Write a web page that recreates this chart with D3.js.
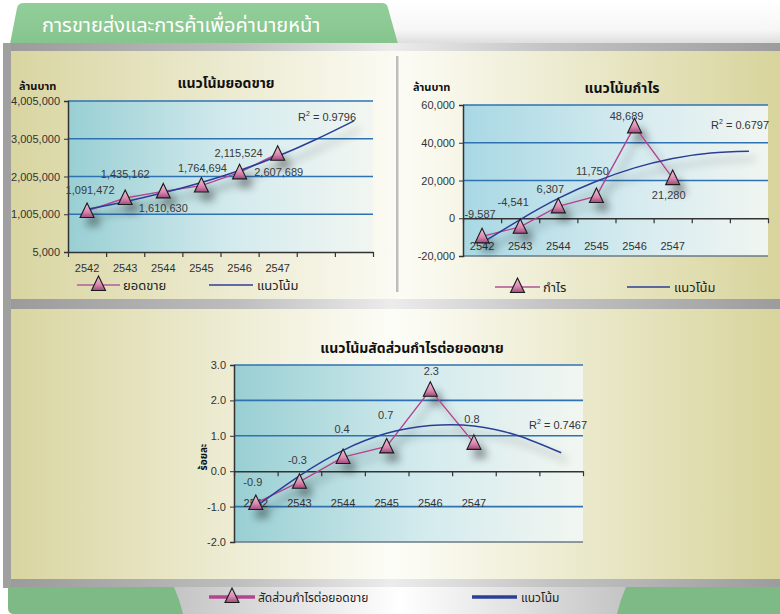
<!DOCTYPE html>
<html>
<head>
<meta charset="utf-8">
<script src="https://cdn.jsdelivr.net/npm/d3@7/dist/d3.min.js"></script>
<style>
  html, body { margin: 0; padding: 0; background: #fff; }
  svg { display: block; }
  text { font-family: "Liberation Sans", Arial, "Noto Sans", sans-serif; }
  .thai { font-family: Tahoma, "Noto Sans Thai", "Noto Sans", "DejaVu Sans", sans-serif; }
</style>
</head>
<body>
<script>
// ---------------- DATA ----------------
const categories = ["2542", "2543", "2544", "2545", "2546", "2547"];

const salesValues  = [1091472, 1435162, 1610630, 1764694, 2115524, 2607689];
const salesTrend   = [1140000, 1339000, 1572000, 1846000, 2166000, 2543000, 2986000, 3480000];
const salesTicks   = [5000, 1005000, 2005000, 3005000, 4005000];
const salesR2      = "0.9796";

const profitValues = [-9587, -4541, 6307, 11750, 48689, 21280];
const profitTrend  = [-13000, -700, 10500, 19600, 26700, 31700, 34600, 35500];
const profitTicks  = [-20000, 0, 20000, 40000, 60000];
const profitR2     = "0.6797";

const ratioValues  = [-0.9, -0.3, 0.4, 0.7, 2.3, 0.8];
const ratioTrend   = [-1.0, -0.13, 0.59, 1.07, 1.29, 1.28, 1.01, 0.52];
const ratioTicks   = [-2.0, -1.0, 0.0, 1.0, 2.0, 3.0];
const ratioR2      = "0.7467";

const pageTitle = "การขายส่งและการค้าเพื่อค่านายหน้า";
const titles = { sales: "แนวโน้มยอดขาย", profit: "แนวโน้มกำไร", ratio: "แนวโน้มสัดส่วนกำไรต่อยอดขาย" };
const unitLabel = "ล้านบาท";
const ratioUnit = "ร้อยละ";
const legendNames = { sales: "ยอดขาย", profit: "กำไร", ratio: "สัดส่วนกำไรต่อยอดขาย", trend: "แนวโน้ม" };

// --------------- DRAWING ----------------
const W = 780, H = 614;
const svg = d3.select("body").append("svg").attr("width", W).attr("height", H);
const defs = svg.append("defs");

function hGrad(id, stops) {
  const g = defs.append("linearGradient").attr("id", id).attr("x1", 0).attr("x2", 1).attr("y1", 0).attr("y2", 0);
  stops.forEach(s => g.append("stop").attr("offset", s[0]).attr("stop-color", s[1]));
}
function vGrad(id, stops) {
  const g = defs.append("linearGradient").attr("id", id).attr("x1", 0).attr("x2", 0).attr("y1", 0).attr("y2", 1);
  stops.forEach(s => g.append("stop").attr("offset", s[0]).attr("stop-color", s[1]));
}
hGrad("grayBar", [[0, "#9a9a9a"], [0.3, "#bdbdbd"], [0.5, "#ececec"], [0.7, "#c4c4c4"], [1, "#9c9c9c"]]);
hGrad("panelL", [[0, "#d9d5a1"], [1, "#fbfbf4"]]);
hGrad("panelR", [[0, "#fcfcf6"], [1, "#d8d49c"]]);
hGrad("panelB", [[0, "#d9d5a1"], [0.5, "#fdfdf8"], [1, "#d8d49c"]]);
hGrad("plotFill", [[0, "#98cfd3"], [0.55, "#d4ebee"], [1, "#f2f6f1"]]);
hGrad("plotFill2", [[0, "#a8d8e4"], [0.6, "#d8ecf0"], [1, "#f0f5f1"]]);
hGrad("legendBg", [[0, "#c4c4c4"], [0.5, "#ffffff"], [1, "#c4c4c4"]]);
vGrad("tabFill", [[0, "#92ce99"], [1, "#86c48d"]]);
vGrad("topWhite", [[0, "#ffffff"], [0.7, "#f6f6f6"], [1, "#dedede"]]);
vGrad("triFill", [[0, "#f4c6dc"], [0.6, "#d988b0"], [1, "#a04a7c"]]);

const sh = defs.append("filter").attr("id", "shadow").attr("x", "-20%").attr("y", "-20%").attr("width", "150%").attr("height", "160%");
sh.append("feGaussianBlur").attr("in", "SourceAlpha").attr("stdDeviation", 4).attr("result", "b");
sh.append("feOffset").attr("in", "b").attr("dx", 6).attr("dy", 8).attr("result", "o");
sh.append("feComponentTransfer").attr("in", "o").attr("result", "o2")
  .append("feFuncA").attr("type", "linear").attr("slope", 0.45);
const m = sh.append("feMerge");
m.append("feMergeNode").attr("in", "o2");
m.append("feMergeNode").attr("in", "SourceGraphic");

// ---- page decoration ----
svg.append("rect").attr("x", 392).attr("y", 0).attr("width", W - 392).attr("height", 43).attr("fill", "url(#topWhite)");
svg.append("path").attr("d", "M10,44 L17,8 Q18,3 24,3 L382,3 Q387,3 388,8 L398,44 Z").attr("fill", "url(#tabFill)");
svg.append("text").attr("class", "thai").attr("x", 42).attr("y", 32).attr("fill", "#fff")
  .attr("font-size", 20).text(pageTitle);

// bottom decoration
svg.append("path").attr("d", "M8,587 L180,587 L184,614 L14,614 Q8,614 8,608 Z").attr("fill", "#7dba86");
svg.append("path").attr("d", "M620,587 L780,587 L780,614 L616,614 Z").attr("fill", "#7dba86");
svg.append("path").attr("d", "M174,587 L626,587 Q620,600 617,614 L183,614 Q180,600 174,587 Z").attr("fill", "url(#legendBg)");

// gray frame
svg.append("rect").attr("x", 3).attr("y", 43).attr("width", W - 3).attr("height", 8).attr("fill", "url(#grayBar)");
svg.append("rect").attr("x", 3).attr("y", 299).attr("width", W - 3).attr("height", 10).attr("fill", "url(#grayBar)");
svg.append("rect").attr("x", 3).attr("y", 579).attr("width", W - 3).attr("height", 8).attr("fill", "url(#grayBar)");
svg.append("rect").attr("x", 3).attr("y", 43).attr("width", 8).attr("height", 545).attr("fill", "#a0a0a0");

// panels
svg.append("rect").attr("x", 11).attr("y", 51).attr("width", 386).attr("height", 248).attr("fill", "url(#panelL)");
svg.append("rect").attr("x", 397).attr("y", 51).attr("width", W - 397).attr("height", 248).attr("fill", "url(#panelR)");
svg.append("rect").attr("x", 11).attr("y", 309).attr("width", W - 11).attr("height", 270).attr("fill", "url(#panelB)");
svg.append("rect").attr("x", 396).attr("y", 56).attr("width", 2.5).attr("height", 236).attr("fill", "#bdbdbd");

const triPath = "M0,-8 L7,6.5 L-7,6.5 Z";

function drawChart(cfg) {
  const g = svg.append("g");
  const x = d3.scaleLinear().domain([0.5, 8.5]).range([cfg.left, cfg.right]);
  const y = d3.scaleLinear().domain(cfg.domain).range([cfg.bottom, cfg.top]);
  const fmt = cfg.fmt;

  g.append("rect").attr("x", cfg.left).attr("y", cfg.top).attr("width", cfg.right - cfg.left)
    .attr("height", cfg.bottom - cfg.top).attr("fill", cfg.fill);

  g.selectAll(".grid").data(cfg.ticks.filter(t => t !== cfg.baseline)).join("line")
    .attr("x1", cfg.left).attr("x2", cfg.right)
    .attr("y1", d => y(d)).attr("y2", d => y(d))
    .attr("stroke", d => d === cfg.domain[0] ? "#6a7a86" : "#2f72b2")
    .attr("stroke-width", d => d === cfg.domain[0] ? 1.5 : 1.6);

  const ya = d3.axisLeft(y).tickValues(cfg.ticks).tickFormat(fmt).tickSize(4).tickPadding(4);
  const yg = g.append("g").attr("transform", `translate(${cfg.left},0)`).call(ya);
  yg.select(".domain").attr("stroke", "#333").attr("stroke-width", 1.5);
  yg.selectAll(".tick line").attr("stroke", "#333");
  yg.selectAll("text").attr("font-size", 11).attr("fill", "#333")
    .attr("font-family", "'Liberation Sans', Arial, sans-serif");

  const xa = d3.axisBottom(x).tickValues(d3.range(0.5, 9, 1)).tickFormat("").tickSize(5).tickSizeOuter(0);
  const xg = g.append("g").attr("transform", `translate(0,${y(cfg.baseline)})`).call(xa);
  xg.select(".domain").attr("stroke", "#333").attr("stroke-width", 1.5);
  xg.selectAll(".tick line").attr("stroke", "#333").attr("stroke-width", 1.2);

  g.selectAll(".cat").data(categories).join("text")
    .attr("x", (d, i) => x(i + 1)).attr("y", cfg.catY)
    .attr("text-anchor", "middle").attr("font-size", 11).attr("fill", "#333").text(d => d);

  const sg = g.append("g").attr("filter", "url(#shadow)");
  sg.append("path").datum(cfg.values)
    .attr("d", d3.line().x((d, i) => x(i + 1)).y(d => y(d)))
    .attr("fill", "none").attr("stroke", "#b3448f").attr("stroke-width", 1.4);
  sg.append("path").datum(cfg.trend)
    .attr("d", d3.line().curve(d3.curveNatural).x((d, i) => x(i + 1)).y(d => y(d)))
    .attr("fill", "none").attr("stroke", "#2b3f96").attr("stroke-width", 1.5);
  sg.selectAll(".tri").data(cfg.values).join("path")
    .attr("d", triPath).attr("transform", (d, i) => `translate(${x(i + 1)},${y(d)})`)
    .attr("fill", "url(#triFill)").attr("stroke", "#1a1a1a").attr("stroke-width", 1.1);

  g.selectAll(".lbl").data(cfg.values).join("text")
    .attr("x", (d, i) => x(i + 1) + cfg.labelDx[i]).attr("y", (d, i) => y(d) + cfg.labelDy[i] + 4)
    .attr("text-anchor", "middle").attr("font-size", 11).attr("fill", "#3a3a3a").text(d => fmt(d));

  const r = g.append("text").attr("x", cfg.r2x).attr("y", cfg.r2y).attr("font-size", 11).attr("fill", "#333");
  r.append("tspan").text("R");
  r.append("tspan").attr("font-size", 7).attr("dy", -5).text("2");
  r.append("tspan").attr("dy", 5).text(" = " + cfg.r2);

  svg.append("text").attr("class", "thai").attr("x", cfg.titleX).attr("y", cfg.titleY)
    .attr("text-anchor", "middle").attr("font-size", 14).attr("font-weight", "bold").attr("fill", "#111")
    .text(cfg.title);
  return { x, y };
}

function legend(lx, ly, name, thick, nameFs) {
  const g = svg.append("g");
  g.append("line").attr("x1", lx.s1).attr("x2", lx.s2).attr("y1", ly).attr("y2", ly)
    .attr("stroke", thick ? "#b3448f" : "#c07aa8").attr("stroke-width", thick ? 3.5 : 2);
  g.append("path").attr("d", triPath).attr("transform", `translate(${(lx.s1 + lx.s2) / 2},${ly - 1})`)
    .attr("fill", "url(#triFill)").attr("stroke", "#1a1a1a").attr("stroke-width", 1.1);
  g.append("text").attr("class", "thai").attr("x", lx.s2 + 3).attr("y", ly + 5).attr("font-size", nameFs)
    .attr("fill", "#222").text(name);
  g.append("line").attr("x1", lx.t1).attr("x2", lx.t2).attr("y1", ly).attr("y2", ly)
    .attr("stroke", "#2b3f96").attr("stroke-width", thick ? 3.5 : 1.5);
  g.append("text").attr("class", "thai").attr("x", lx.t2 + 4).attr("y", ly + 5).attr("font-size", nameFs)
    .attr("fill", "#222").text(legendNames.trend);
}

const loc = d3.formatLocale({ decimal: ".", thousands: ",", grouping: [3], currency: ["", ""], minus: "-" });
const fmtInt = loc.format(",");
const fmt1 = loc.format(".1f");

// Sales
drawChart({
  left: 68, right: 373, top: 101, bottom: 252, domain: [5000, 4005000], baseline: 5000,
  ticks: salesTicks, values: salesValues, trend: salesTrend, fmt: fmtInt, fill: "url(#plotFill)",
  catY: 272, labelDx: [3, 0, 0, 1, -1, 1], labelDy: [-21, -24, 17, -18, -19, 18],
  r2: salesR2, r2x: 298, r2y: 121, title: titles.sales, titleX: 226, titleY: 88
});
svg.append("text").attr("class", "thai").attr("x", 19).attr("y", 90).attr("font-size", 11)
  .attr("font-weight", "bold").attr("fill", "#111").text(unitLabel);
legend({ s1: 77, s2: 120, t1: 209, t2: 253 }, 285, legendNames.sales, false, 13);

// Profit
drawChart({
  left: 463, right: 768, top: 105, bottom: 256, domain: [-20000, 60000], baseline: 0,
  ticks: profitTicks, values: profitValues, trend: profitTrend, fmt: fmtInt, fill: "url(#plotFill2)",
  catY: 250, labelDx: [-2, -7, -8, -4, -8, -4], labelDy: [-22, -25, -17, -25, -10, 17],
  r2: profitR2, r2x: 711, r2y: 129, title: titles.profit, titleX: 622, titleY: 93
});
svg.append("text").attr("class", "thai").attr("x", 413).attr("y", 91).attr("font-size", 11)
  .attr("font-weight", "bold").attr("fill", "#111").text(unitLabel);
legend({ s1: 495, s2: 540, t1: 627, t2: 670 }, 287, legendNames.profit, false, 13);

// Ratio
drawChart({
  left: 234, right: 583, top: 365, bottom: 542, domain: [-2, 3], baseline: 0,
  ticks: ratioTicks, values: ratioValues, trend: ratioTrend, fmt: fmt1, fill: "url(#plotFill)",
  catY: 507, labelDx: [-3, -2, -1, -1, 1, -2], labelDy: [-21, -22, -28, -31, -19, -24],
  r2: ratioR2, r2x: 529, r2y: 429, title: titles.ratio, titleX: 412, titleY: 353
});
svg.append("text").attr("class", "thai").attr("transform", "translate(207,457) rotate(-90)")
  .attr("text-anchor", "middle").attr("font-size", 10).attr("font-weight", "bold").attr("fill", "#111").text(ratioUnit);
legend({ s1: 209, s2: 255, t1: 472, t2: 517 }, 597, legendNames.ratio, true, 12);
</script>
</body>
</html>
